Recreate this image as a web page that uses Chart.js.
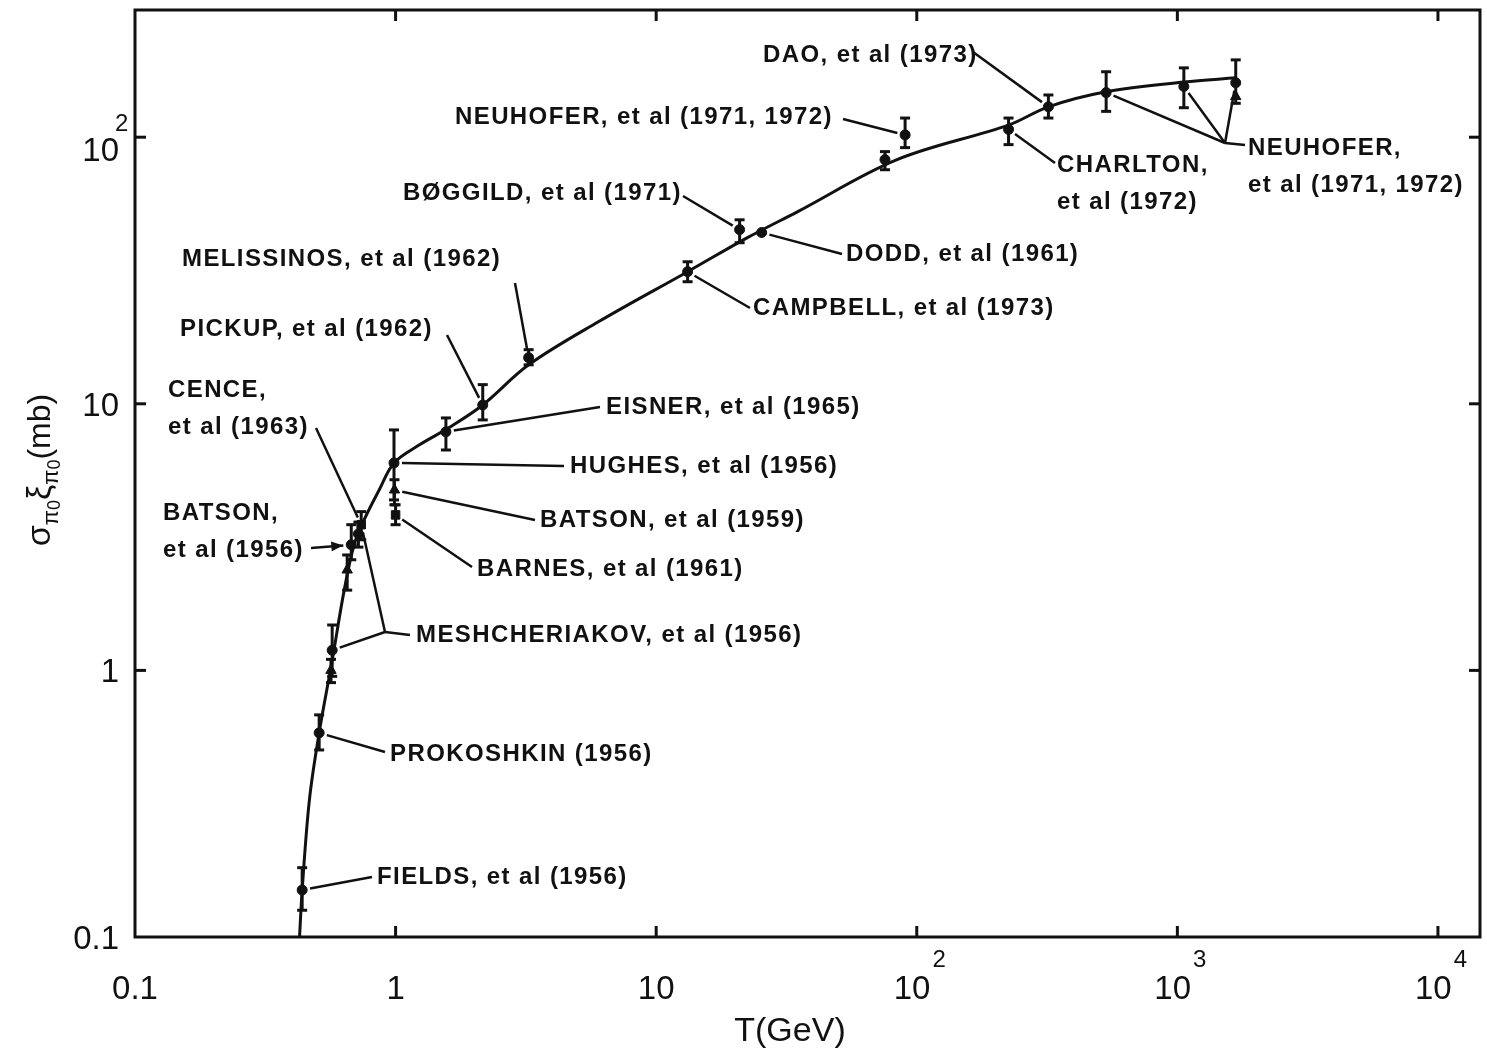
<!DOCTYPE html>
<html>
<head>
<meta charset="utf-8">
<script src="https://cdn.jsdelivr.net/npm/chart.js@4.4.1/dist/chart.umd.min.js"></script>
<style>
  html, body { margin: 0; padding: 0; background: #fff; }
  #wrap { width: 1487px; height: 1052px; }
</style>
</head>
<body>
<div id="wrap"><canvas id="xsecChart"></canvas></div>
<script>
// measured points: beam kinetic energy T (GeV) and cross section (mb)
const energy    = [0.438, 0.509, 0.565, 0.571, 0.652, 0.676, 0.738, 0.72, 0.986, 0.99, 1.0, 1.56, 2.16, 3.24, 13.2, 20.9, 25.4, 75.5, 90.2, 225, 320, 533, 1059, 1675, 1675];
const sigma     = [0.15, 0.583, 1.0, 1.19, 2.38, 2.96, 3.52, 3.25, 6.0, 4.75, 3.83, 7.85, 9.9, 14.9, 31.3, 45, 43.9, 82.4, 102, 107, 130, 147, 155, 160, 142];
const sigmaLow  = [0.126, 0.503, 0.9, 0.95, 2.0, 2.6, 3.09, 2.9, 4.36, 4.18, 3.52, 6.71, 8.7, 14.0, 28.7, 40.2, null, 75.5, 91.4, 93.8, 118, 125, 129, 134, null];
const sigmaHigh = [0.182, 0.681, 1.1, 1.48, 2.71, 3.52, 3.94, 3.6, 7.98, 5.19, 4.18, 8.85, 11.8, 15.96, 34.1, 49, null, 88.3, 118, 118, 144, 176, 182, 195, null];
const pointShape = ['circle', 'circle', 'triangle', 'circle', 'triangle', 'circle', 'rect', 'circle', 'circle', 'triangle', 'rect',
                    'circle', 'circle', 'circle', 'circle', 'circle', 'circle', 'circle', 'circle', 'circle', 'circle', 'circle', 'circle', 'circle', 'triangle'];

// hand drawn trend curve through the data
const curveEnergy = [0.428, 0.438, 0.467, 0.509, 0.571, 0.635, 0.693, 0.757, 0.865, 0.986, 1.23, 1.60, 2.16, 3.24, 6.0, 13.2, 22.4, 34.8, 84, 225, 320, 533, 1059, 1675];
const curveSigma  = [0.1, 0.15, 0.327, 0.583, 1.09, 2.0, 2.96, 3.67, 4.75, 6.0, 7.0, 8.13, 9.9, 14.0, 20.3, 31.3, 42.0, 52.5, 82.4, 111, 130, 148, 161, 167];

const xTicks = [0.1, 1, 10, 100, 1000, 10000];
const xTickBase = ['0.1', '1', '10', '10', '10', '10'];
const xTickExp  = ['', '', '', '2', '3', '4'];
const yTicks = [0.1, 1, 10, 100];
const yTickBase = ['0.1', '1', '10', '10'];
const yTickExp  = ['', '', '', '2'];

// labels: text spot and leader start are offsets from the plot corner, leaders end at data points
const notes = [
  { lines: ['DAO, et al (1973)'], at: [628, 45], from: [838, 42], to: [20] },
  { lines: ['NEUHOFER, et al (1971, 1972)'], at: [320, 107], from: [708, 109], to: [18] },
  { lines: ['B\u00d8GGILD, et al (1971)'], at: [268, 183], from: [548, 186], to: [15] },
  { lines: ['MELISSINOS, et al (1962)'], at: [47, 249], from: [380, 273], to: [13] },
  { lines: ['PICKUP, et al (1962)'], at: [45, 319], from: [312, 325], to: [12] },
  { lines: ['CENCE,', 'et al (1963)'], at: [33, 380], from: [181, 418], to: [6] },
  { lines: ['BATSON,', 'et al (1956)'], at: [28, 503], from: [176, 538], to: [5], arrow: true },
  { lines: ['MESHCHERIAKOV, et al (1956)'], at: [281, 625], from: [275, 625], via: [250, 622], to: [6, 3] },
  { lines: ['HUGHES, et al (1956)'], at: [435, 456], from: [429, 456], to: [8] },
  { lines: ['EISNER, et al (1965)'], at: [471, 397], from: [465, 397], to: [11] },
  { lines: ['BATSON, et al (1959)'], at: [405, 510], from: [400, 510], to: [9] },
  { lines: ['BARNES, et al (1961)'], at: [342, 559], from: [337, 557], to: [10] },
  { lines: ['PROKOSHKIN (1956)'], at: [255, 744], from: [250, 742], to: [1] },
  { lines: ['FIELDS, et al (1956)'], at: [242, 867], from: [237, 867], to: [0] },
  { lines: ['DODD, et al (1961)'], at: [711, 244], from: [707, 244], to: [16] },
  { lines: ['CAMPBELL, et al (1973)'], at: [618, 298], from: [615, 298], to: [14] },
  { lines: ['CHARLTON,', 'et al (1972)'], at: [922, 155], from: [920, 153], to: [19] },
  { lines: ['NEUHOFER,', 'et al (1971, 1972)'], at: [1113, 138], from: [1110, 135], via: [1090, 133], to: [21, 22, 23] }
];

const INK = '#111';
const NOTE_FONT = 'bold 24px "Liberation Sans", Arial, sans-serif';
const NUM_FONT = '33px "Liberation Sans", Arial, sans-serif';
const EXP_FONT = '24px "Liberation Sans", Arial, sans-serif';

function seg(ctx, x1, y1, x2, y2) {
  ctx.beginPath(); ctx.moveTo(x1, y1); ctx.lineTo(x2, y2); ctx.stroke();
}

const overlay = {
  id: 'overlay',
  afterDatasetsDraw(chart) {
    const { ctx, chartArea: a, scales: { x, y } } = chart;
    ctx.save();
    ctx.strokeStyle = INK;
    ctx.fillStyle = INK;

    // error bars
    ctx.lineWidth = 3;
    energy.forEach((t, i) => {
      if (sigmaLow[i] == null) return;
      const px = x.getPixelForValue(t);
      const y1 = y.getPixelForValue(sigmaLow[i]);
      const y2 = y.getPixelForValue(sigmaHigh[i]);
      seg(ctx, px, y1, px, y2);
      seg(ctx, px - 5, y1, px + 5, y1);
      seg(ctx, px - 5, y2, px + 5, y2);
    });

    // frame and inward ticks
    ctx.lineWidth = 3;
    ctx.strokeRect(a.left, a.top, a.right - a.left, a.bottom - a.top);
    xTicks.forEach(v => {
      const px = x.getPixelForValue(v);
      if (px - a.left < 4 || a.right - px < 4) return;
      seg(ctx, px, a.bottom, px, a.bottom - 11);
      seg(ctx, px, a.top, px, a.top + 11);
    });
    yTicks.forEach(v => {
      const py = y.getPixelForValue(v);
      if (a.bottom - py < 4) return;
      seg(ctx, a.left, py, a.left + 11, py);
      seg(ctx, a.right, py, a.right - 11, py);
    });

    // tick labels
    ctx.textBaseline = 'alphabetic';
    xTicks.forEach((v, i) => {
      const px = x.getPixelForValue(v);
      ctx.font = NUM_FONT;
      const bw = ctx.measureText(xTickBase[i]).width;
      ctx.font = EXP_FONT;
      const ew = xTickExp[i] ? ctx.measureText(xTickExp[i]).width : 0;
      const x0 = px - (bw + ew) / 2 + (xTickExp[i] ? 2 : 0);
      ctx.textAlign = 'left';
      ctx.font = NUM_FONT;
      ctx.fillText(xTickBase[i], x0, a.bottom + 62);
      if (xTickExp[i]) {
        ctx.font = EXP_FONT;
        ctx.fillText(xTickExp[i], x0 + bw + 2, a.bottom + 30);
      }
    });
    yTicks.forEach((v, i) => {
      const py = y.getPixelForValue(v);
      const right = a.left - 16;
      ctx.textAlign = 'right';
      ctx.font = NUM_FONT;
      if (yTickExp[i]) {
        ctx.fillText(yTickBase[i], right, py + 24);
        ctx.font = EXP_FONT;
        ctx.textAlign = 'left';
        ctx.fillText(yTickExp[i], right - 4, py - 6);
      } else {
        ctx.fillText(yTickBase[i], right, py + 12);
      }
    });

    // axis titles
    ctx.font = '34px "Liberation Sans", Arial, sans-serif';
    ctx.textAlign = 'center';
    ctx.fillText('T(GeV)', a.left + 655, a.bottom + 104);

    ctx.save();
    ctx.translate(50, 470);
    ctx.rotate(-Math.PI / 2);
    const parts = [['\u03c3', 34, 0], ['\u03c0', 22, 8], ['0', 18, 10], ['\u03be', 34, 0], ['\u03c0', 22, 8], ['0', 18, 10], ['(mb)', 32, 0]];
    let total = 0;
    parts.forEach(p => { ctx.font = p[1] + 'px "Liberation Sans", Arial, sans-serif'; total += ctx.measureText(p[0]).width; });
    let cx = -total / 2;
    ctx.textAlign = 'left';
    parts.forEach(p => {
      ctx.font = p[1] + 'px "Liberation Sans", Arial, sans-serif';
      ctx.fillText(p[0], cx, p[2]);
      cx += ctx.measureText(p[0]).width;
    });
    ctx.restore();

    // annotations with leader lines
    ctx.font = NOTE_FONT;
    ctx.letterSpacing = '1.4px';
    ctx.textAlign = 'left';
    ctx.textBaseline = 'middle';
    ctx.lineWidth = 2.5;
    notes.forEach(n => {
      n.lines.forEach((s, k) => ctx.fillText(s, a.left + n.at[0], a.top + n.at[1] + k * 37));
      const sx = a.left + n.from[0], sy = a.top + n.from[1];
      let hx = sx, hy = sy;
      if (n.via) {
        hx = a.left + n.via[0];
        hy = a.top + n.via[1];
        seg(ctx, sx, sy, hx, hy);
      }
      n.to.forEach(i => {
        const tx = x.getPixelForValue(energy[i]);
        const ty = y.getPixelForValue(sigma[i]);
        const d = Math.hypot(tx - hx, ty - hy);
        const ux = (tx - hx) / d, uy = (ty - hy) / d;
        const ex = tx - ux * 8, ey = ty - uy * 8;
        seg(ctx, hx, hy, ex, ey);
        if (n.arrow) {
          ctx.beginPath();
          ctx.moveTo(ex, ey);
          ctx.lineTo(ex - ux * 12 - uy * 5, ey - uy * 12 + ux * 5);
          ctx.lineTo(ex - ux * 12 + uy * 5, ey - uy * 12 - ux * 5);
          ctx.closePath();
          ctx.fill();
        }
      });
    });
    ctx.restore();
  }
};

new Chart(document.getElementById('xsecChart'), {
  type: 'scatter',
  data: {
    datasets: [
      {
        label: 'measurements',
        data: energy.map((t, i) => ({ x: t, y: sigma[i] })),
        pointStyle: pointShape,
        pointRadius: pointShape.map(s => s === 'circle' ? 5 : 6),
        backgroundColor: INK,
        borderColor: INK,
        borderWidth: 1,
        order: 1
      },
      {
        type: 'line',
        label: 'curve',
        data: curveEnergy.map((t, i) => ({ x: t, y: curveSigma[i] })),
        borderColor: INK,
        borderWidth: 3,
        pointRadius: 0,
        tension: 0.35,
        fill: false,
        order: 2
      }
    ]
  },
  options: {
    responsive: true,
    maintainAspectRatio: false,
    animation: false,
    layout: { padding: { left: 135, top: 10, right: 5, bottom: 115 } },
    scales: {
      x: { type: 'logarithmic', min: 0.1, max: 14500, display: false },
      y: { type: 'logarithmic', min: 0.1, max: 300, display: false }
    },
    plugins: {
      legend: { display: false },
      tooltip: { enabled: false }
    }
  },
  plugins: [overlay]
});
</script>
</body>
</html>
